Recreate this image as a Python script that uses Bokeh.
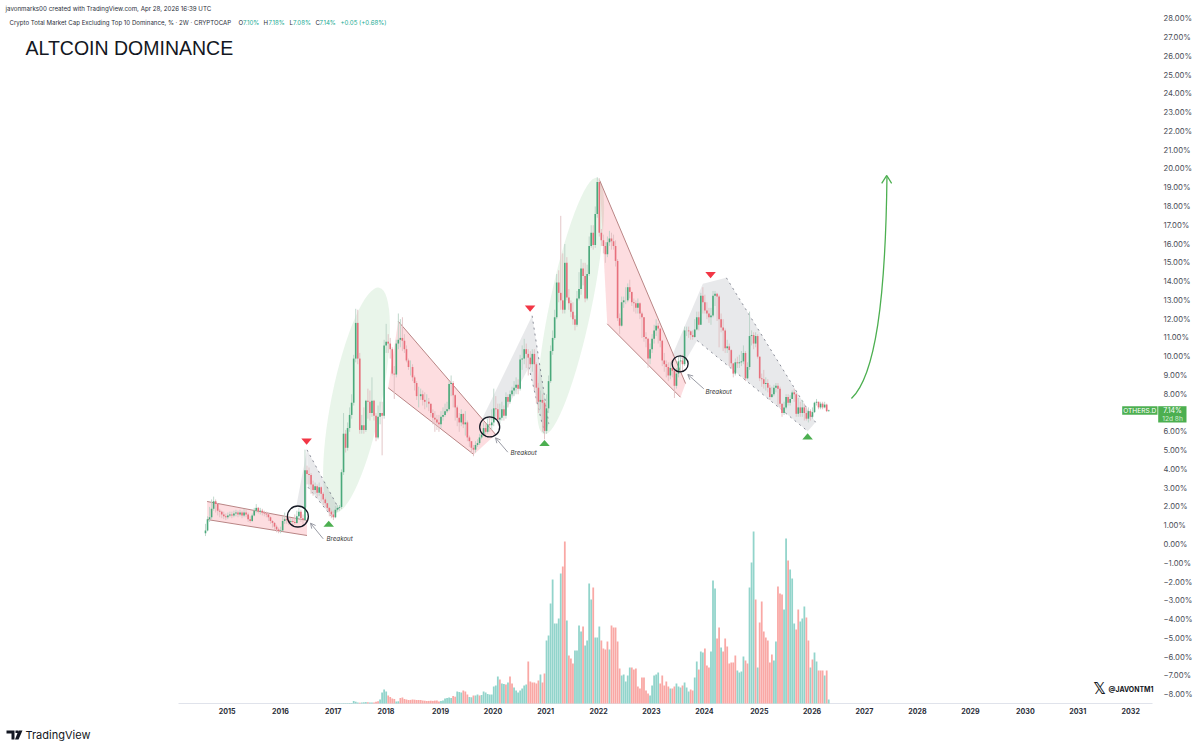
from bokeh.plotting import figure
from bokeh.models import (Range1d, Label, BoxAnnotation, PolyAnnotation, Arrow, OpenHead,
                          FixedTicker, ColumnDataSource)
from bokeh.embed import file_html
from bokeh.resources import INLINE
import math

# ---------------- data ----------------
first_open = 0.6
close = [
 0.75,1.35,1.45,1.9,2.3,2.15,1.8,1.75,1.6,1.5,
 1.45,1.55,1.6,1.55,1.65,1.7,1.6,1.7,1.55,1.7,
 1.6,1.35,1.25,1.55,1.8,1.95,1.75,1.8,1.7,1.65,
 1.6,1.45,1.25,1.15,0.95,0.8,0.72,0.75,1.25,1.35,
 1.3,1.2,1.25,1.2,1.15,1.5,1.75,1.4,1.3,3.95,
 3.75,3.7,3.2,2.9,3.1,2.75,3.05,2.7,2.4,2.2,
 1.95,1.75,1.6,1.45,1.85,1.95,2.0,3.85,5.9,5.15,
 6.2,6.9,7.55,9.9,11.8,9.9,6.1,6.35,6.1,7.65,
 7.6,7.0,7.65,6.85,5.7,6.8,7.0,6.85,10.6,10.8,
 10.7,10.4,9.1,9.05,10.7,10.9,11.0,10.85,10.4,9.8,
 9.45,9.45,8.9,8.6,7.9,7.9,8.0,7.7,7.6,7.6,
 7.5,7.0,6.75,6.65,6.5,6.4,6.8,6.9,7.1,7.2,
 8.55,8.6,7.95,7.3,6.75,6.5,6.95,6.4,6.5,5.7,
 5.5,5.15,5.05,5.3,5.4,5.7,5.85,6.2,6.0,6.4,
 6.35,6.5,7.25,7.2,6.65,6.75,7.2,6.85,7.85,7.6,
 8.0,8.2,8.35,8.5,8.3,9.85,9.9,10.4,10.15,9.95,
 9.6,10.15,9.6,8.35,7.6,7.7,7.55,6.05,7.25,8.7,
 10.3,11.0,12.1,13.95,13.4,13.0,12.5,15.0,13.15,12.85,
 12.4,12.0,11.7,13.1,13.6,14.7,14.3,13.1,14.4,15.9,
 16.6,15.95,17.6,19.3,16.6,16.2,15.9,15.45,16.1,16.3,
 16.15,15.9,15.1,12.05,11.65,12.9,13.0,13.0,13.7,13.45,
 12.9,12.85,12.6,12.85,12.3,12.1,11.05,10.95,9.9,10.4,
 10.95,11.4,11.65,11.5,10.85,9.8,9.6,9.45,9.0,9.4,
 9.25,8.45,9.1,9.75,9.8,9.6,11.4,11.4,11.35,11.15,
 11.05,11.45,12.1,11.7,13.25,12.9,12.46,12.3,12.1,12.2,
 13.25,13.35,13.2,12.0,11.55,11.4,10.45,10.55,10.35,9.65,
 9.1,9.7,9.65,9.7,9.75,10.2,8.85,9.45,11.1,11.15,
 10.7,11.1,10.0,8.85,8.8,8.55,8.6,8.35,7.85,8.0,
 8.35,8.45,8.3,7.5,7.0,7.3,7.85,7.55,7.75,8.1,
 8.0,6.96,7.3,7.0,7.3,7.0,6.7,7.1,6.8,7.05,
 7.55,7.6,7.3,7.5,7.3,7.45,7.1,7.14]
high = [
 1.1,1.5,2.0,2.4,2.55,2.4,2.2,1.9,1.8,1.75,
 1.65,1.7,1.75,1.75,1.8,1.85,1.8,1.85,1.8,1.9,
 1.85,1.7,1.5,1.65,1.95,2.15,2.0,1.95,1.9,1.8,
 1.75,1.65,1.5,1.3,1.2,1.05,0.9,0.95,1.5,1.7,
 1.5,1.4,1.4,1.4,1.6,1.8,1.95,1.85,1.6,5.05,
 4.2,4.1,3.8,3.4,3.3,3.2,3.3,3.1,2.8,2.5,
 2.2,2.0,1.85,1.8,2.05,2.1,2.1,4.0,7.0,6.1,
 6.5,7.3,8.0,10.1,12.55,12.5,10.2,6.9,7.3,7.7,
 8.3,8.2,8.9,7.7,7.0,7.4,7.6,7.6,10.9,11.75,
 11.2,11.0,10.5,9.5,10.9,12.3,12.0,12.1,11.2,10.6,
 9.9,9.8,9.6,9.0,8.7,8.4,8.3,8.2,8.1,8.0,
 7.8,7.5,7.2,7.1,6.9,6.9,7.1,7.3,7.5,7.6,
 8.7,9.0,8.7,8.0,7.4,7.0,7.2,7.0,7.1,6.6,
 5.8,5.5,5.3,5.5,5.6,5.9,6.0,6.5,6.4,6.7,
 6.8,7.2,8.3,7.9,7.5,7.5,7.6,7.4,8.1,8.0,
 8.2,8.4,8.7,8.9,8.8,10.1,10.6,10.95,10.7,10.4,
 10.3,10.4,10.4,9.7,8.6,8.2,8.0,7.7,8.0,9.0,
 10.6,11.4,12.5,14.4,14.6,17.5,15.5,16.0,15.3,13.6,
 13.0,12.9,12.2,13.5,14.5,15.2,15.0,15.0,14.9,16.4,
 17.0,17.0,18.0,19.55,19.5,16.8,16.5,16.1,16.4,16.7,
 16.6,16.5,16.2,15.2,12.3,13.2,13.2,13.7,13.9,14.1,
 13.4,13.1,13.0,13.1,12.9,12.4,12.1,11.3,11.0,10.7,
 11.2,11.7,12.0,11.8,11.3,10.9,10.2,9.8,9.7,9.7,
 9.6,9.4,9.4,10.0,10.1,10.1,11.6,11.6,11.6,11.4,
 11.4,12.0,12.4,12.4,13.4,13.7,13.3,12.9,12.6,12.6,
 13.5,13.5,13.4,13.3,12.3,12.0,11.5,10.9,10.7,10.4,
 9.6,9.9,10.0,10.1,10.3,10.6,10.3,9.7,12.4,11.4,
 11.3,11.3,11.2,10.0,9.1,9.3,8.9,8.8,8.5,8.4,
 8.5,8.6,8.6,8.4,7.5,7.6,8.0,8.0,7.95,8.2,
 8.3,8.1,7.8,7.6,7.7,7.5,7.3,7.3,7.2,7.3,
 7.6,7.75,7.6,7.6,7.6,7.6,7.5,7.18]
low = [
 0.45,0.7,1.2,1.35,1.8,1.7,1.55,1.45,1.4,1.35,
 1.3,1.35,1.45,1.4,1.45,1.5,1.45,1.5,1.4,1.45,
 1.45,1.2,1.15,1.2,1.5,1.7,1.65,1.6,1.55,1.5,
 1.45,1.25,1.1,0.9,0.75,0.65,0.6,0.6,0.7,1.1,
 1.1,1.05,1.1,1.05,1.05,1.1,1.4,1.2,1.1,1.25,
 3.2,3.2,2.7,2.6,2.7,2.5,2.6,2.3,2.1,2.0,
 1.8,1.5,1.4,1.3,1.4,1.75,1.8,1.9,3.7,4.9,
 5.0,6.0,6.7,7.4,9.7,9.6,5.9,5.9,5.9,6.0,
 6.7,6.6,6.8,6.6,5.5,5.6,6.4,4.75,6.7,10.2,
 10.2,9.9,9.0,7.75,8.9,10.4,10.5,10.3,10.2,9.7,
 9.3,9.0,8.7,8.2,7.7,7.3,7.7,7.4,7.2,7.3,
 7.1,6.8,6.4,6.0,6.1,6.0,6.2,6.6,6.8,7.0,
 7.1,7.9,7.3,6.6,6.3,6.0,6.3,6.2,5.8,5.5,
 5.2,4.85,4.7,4.9,5.2,5.3,5.6,5.8,5.7,5.9,
 6.0,6.1,6.3,6.8,6.4,6.4,6.6,6.6,6.7,7.3,
 7.5,7.9,7.9,8.0,8.0,8.2,9.3,9.6,9.4,9.0,
 9.4,9.2,8.2,7.5,7.0,7.2,6.0,5.6,5.9,7.0,
 8.6,10.1,10.9,12.0,12.9,12.5,12.3,12.3,13.0,12.5,
 12.1,11.7,11.4,11.6,13.0,13.3,13.8,12.9,13.0,14.3,
 15.8,15.7,15.8,17.4,16.4,15.9,15.5,15.0,15.3,15.9,
 15.7,15.7,14.8,11.9,11.2,11.6,12.6,12.8,12.9,13.1,
 12.7,12.4,12.3,12.3,12.0,11.0,10.8,10.5,9.4,9.6,
 10.2,10.7,11.1,10.7,10.5,9.5,9.2,8.9,8.7,8.8,
 8.9,7.8,8.3,8.9,9.3,9.2,9.5,11.1,11.0,10.9,
 10.9,11.0,11.4,11.4,11.7,12.3,12.3,12.0,11.8,11.7,
 12.1,12.7,11.9,10.5,11.3,10.3,10.2,10.2,9.5,9.4,
 8.9,9.0,9.4,9.4,9.5,9.6,8.7,8.8,9.3,10.6,
 10.4,10.5,9.9,8.7,8.4,8.3,8.2,8.1,7.7,7.8,
 7.9,8.1,7.4,7.3,6.8,6.9,7.2,7.4,7.4,7.8,
 7.6,6.8,6.8,6.8,6.8,6.6,6.6,6.5,6.6,6.7,
 7.0,7.4,7.2,7.2,7.2,7.25,7.05,7.08]

volume_first_bar = 60
volume = [
 0,0,0,0.2,0.2,0.3,0.3,0.3,0.4,0.4,
 0.4,0.5,0.5,2.5,1.8,1.0,0.8,1.0,1.2,1.4,
 1.3,1.0,0.9,0.9,1.8,2.2,4.0,11,14,12,
 8,6.5,5,4.5,2,2.2,5.5,6,4.5,4,
 3.5,3.6,4,3.8,3.5,3.5,3.5,3,2.8,2.5,
 2.6,2.8,2.6,2.9,3,2,2.5,3,5,5.5,
 6,5.5,7.5,6.8,12,11.5,11,13,12,9,
 6.5,6.2,8,8,9,8,8.5,12,11,9.5,
 9,9,17,18,27,24,20,19.5,19,21,
 27,20,16,13,11,13,15,18,19,42,
 22,21,21,20,23,29,21,30,63,68,
 100,124,80,80,85,130,137,162,83,48,
 45,40,53,53,78,72,77,58,63,120,
 104,116,66,66,77,63,55,54,62,54,
 78,76,76,62,35,28,29,22,28,36,
 36,34,35,17,15,26,26,13,10,8,
 18,28,29,31,20,28,18,22,17,15,
 15,17,20,17,16,18,21,16,12,14,
 13,26,42,34,52,51,55,38,36,52,
 123,115,65,76,56,52,65,57,40,41,
 41,48,33,31,32,47,43,40,116,141,
 172,104,36,81,102,72,66,63,41,49,
 43,62,117,110,109,94,165,143,134,125,
 80,74,94,82,85,97,86,63,36,44,
 51,42,33,33,33,28,33,4]
volume_side = "".join([
 "tttttttttt","ttttttrttt","rttrrrtttt","rrrrttrrrr","rrrrrrrrrr","rrrrrrtttt",
 "ttrrtttrrr","ttrttrtttt","tttttrttrt","rrtttttttr","rrrrrtrrtt","ttttttrrtr",
 "rrttttrttt","trtttrrrrt","rrrrrttttt","rrrrrrrrrt","ttttrrrrrt","rrtttrtttr",
 "rttrttrrrt","ttrrtrrrrr","rrttttrrtt","trtrrrrrrr","ttrrrttrtt","trrtttrrtr",
 "ttrrrtrt"])

year_labels = ["2015","2016","2017","2018","2019","2020","2021","2022","2023","2024",
               "2025","2026","2027","2028","2029","2030","2031","2032"]
year_bars = [10.7,36.9,62.9,88.9,115.8,141.6,167.6,193.7,219.7,245.8,
             272.8,298.8,324.6,350.7,376.8,403.9,429.7,455.8]
pct_ticks = list(range(-8, 29))

# annotations, in (bar, percent)
channel_a = ([0.8,50,50,0.8],[2.29,1.28,0.48,1.33])
channel_b = ([94.9,142.9,132.2,90],[11.89,5.86,4.79,8.34])
channel_c = ([194.2,236.5,234,197.9],[19.38,8.57,7.84,11.75])
gray_a = ([44.8,50,50],[2.08,5.04,1.97])
gray_a2 = ([50,65.7,62.4,50.5],[5.04,1.9,1.45,3.05])
gray_b = ([136.3,160.9,169.1,167,159.3,145.3],[6.69,12.18,6.43,5.89,9.44,6.6])
gray_c = ([229.9,245,256.6,300.5,296.7,242.2,236.5],[10.06,13.88,14.2,6.51,6.03,10.86,9.8])
dotted_x = [[50,65.7],[50.5,62.4],[160.9,169.1],[159.3,167],[256.6,300.5],[242.2,296.7]]
dotted_y = [[5.04,1.9],[3.05,1.45],[12.18,6.43],[9.44,5.89],[14.2,6.51],[10.86,6.03]]
ellipse_x = [74.4,179.8]
ellipse_y = [7.67,12.7]
ellipse_long = [230,262]
ellipse_short = [50,42]
ellipse_deg = [78.6,78.3]
circle_x = [45.5,140,233.8]
circle_y = [1.49,6.26,9.62]
circle_d = [21,20,16]
sell_x = [49.8,159.9,248.8]
sell_y = [5.48,12.57,14.35]
buy_x = [60.7,167,296.6]
buy_y = [1.1,5.4,5.75]
arrows = [(310,522.7,322.7,538.3),(495,437.3,507.3,451.7),(687.3,374,703.3,388.3)]
breakouts = [(326,537.5),(510,451.5),(705,390.5)]

TOP_PCT = 544/18.78
BOT_PCT = (544-750)/18.78
AXIS_PCT = (544-703)/18.78
LEFT_BAR = (0-205)/2.03
AXIS_BAR = (1152-205)/2.03
RIGHT_BAR = (1200-205)/2.03

p = figure(width=1200, height=750, output_backend="svg", toolbar_location=None,
           x_range=Range1d(LEFT_BAR, RIGHT_BAR), y_range=Range1d(BOT_PCT, TOP_PCT),
           y_axis_location="right", min_border_left=0, min_border_top=0,
           min_border_right=0, min_border_bottom=0, outline_line_color=None,
           background_fill_color="white", border_fill_color="white")
p.grid.visible = False
p.extra_y_ranges = {"vol": Range1d(-47, 703)}

ya = p.yaxis[0]
ya.fixed_location = AXIS_BAR
ya.ticker = FixedTicker(ticks=pct_ticks)
ya.major_label_overrides = {t: ("\u2212" if t < 0 else "") + f"{abs(t)}.00%" for t in pct_ticks}
ya.major_label_text_font = "Inter"
ya.major_label_text_font_size = "7.7px"
ya.major_label_text_color = "#4a4d57"
ya.major_tick_in = 0
ya.major_tick_out = 0
ya.major_tick_line_color = None
ya.minor_tick_line_color = None
ya.axis_line_color = None
ya.major_label_standoff = 11

xa = p.xaxis[0]
xa.fixed_location = AXIS_PCT
xa.ticker = FixedTicker(ticks=year_bars)
xa.major_label_overrides = dict(zip(year_bars, year_labels))
xa.major_label_text_font = "Inter"
xa.major_label_text_font_style = "bold"
xa.major_label_text_font_size = "7.1px"
xa.major_label_text_color = "#2a2e39"
xa.major_tick_in = 0
xa.major_tick_out = 0
xa.major_tick_line_color = None
xa.minor_tick_line_color = None
xa.axis_line_color = None
xa.major_label_standoff = 4

# baseline of the time axis
p.segment(x0=[-13.3], y0=[AXIS_PCT], x1=[AXIS_BAR], y1=[AXIS_PCT], line_color="#e0e3eb", line_width=1)

# ellipses
p.ellipse(x=ellipse_x, y=ellipse_y, width=ellipse_long, height=ellipse_short,
          angle=[math.radians(a) for a in ellipse_deg], width_units="screen", height_units="screen",
          fill_color="#4caf50", fill_alpha=0.12, line_color=None)

# shaded shapes
for xs, ys in (gray_a, gray_a2, gray_b, gray_c):
    p.patch(xs, ys, fill_color="#787b86", fill_alpha=0.17, line_color=None)
for xs, ys in (channel_a, channel_b, channel_c):
    p.patch(xs, ys, fill_color="#f23645", fill_alpha=0.17, line_color=None)
    p.segment(x0=[xs[0], xs[3]], y0=[ys[0], ys[3]], x1=[xs[1], xs[2]], y1=[ys[1], ys[2]],
              line_color="#b98585", line_width=1)
p.multi_line(dotted_x, dotted_y, line_color="#6f7280", line_width=0.8, line_dash="dotted")

# volume
vx = [volume_first_bar + k for k in range(len(volume))]
vc = ["#92d4cb" if s == "t" else "#f9a8a5" for s in volume_side]
p.vbar(x=vx, bottom=[0]*len(vx), top=volume, width=0.88, fill_color=vc, line_color=None,
       y_range_name="vol")

# candles
opens = [first_open] + close[:-1]
bars = list(range(len(close)))
up = [c >= o for c, o in zip(close, opens)]
src = ColumnDataSource(dict(
    x=bars, o=opens, c=close, h=high, l=low,
    wick=["#b9d2c6" if u else "#e0bfc2" for u in up],
    body=["#4aa97b" if u else "#e8707c" for u in up]))
p.segment(x0="x", y0="l", x1="x", y1="h", source=src, line_color="wick", line_width=0.9)
p.vbar(x="x", bottom="o", top="c", width=0.8, source=src, fill_color="body", line_color=None)

# markers
p.scatter(circle_x, circle_y, marker="circle", size=circle_d, fill_color=None,
          line_color="#131722", line_width=1.3)
p.patches([[x-2.6, x+2.6, x] for x in sell_x], [[y+0.16, y+0.16, y-0.17] for y in sell_y],
          fill_color="#f23645", line_color=None)
p.patches([[x-2.6, x+2.6, x] for x in buy_x], [[y-0.16, y-0.16, y+0.17] for y in buy_y],
          fill_color="#4caf50", line_color=None)

# small arrows
def bx(x): return (x-205)/2.03
def pv(y): return (544-y)/18.78
for xa0, ya0, xa1, ya1 in arrows:
    p.add_layout(Arrow(x_start=bx(xa1), y_start=pv(ya1), x_end=bx(xa0), y_end=pv(ya0),
                       line_color="#80838e", line_width=0.8,
                       end=OpenHead(size=5, line_color="#80838e", line_width=0.8)))

# projected move
p.bezier(x0=[318.2], y0=[7.77], x1=[335.7], y1=[19.6], cx0=[330], cy0=[9.0], cx1=[335], cy1=[13],
         line_color="#4caf50", line_width=1.3)
p.line([333.1,335.6,338.0],[19.23,19.65,19.23], line_color="#4caf50", line_width=1.3)

def text_at(xr, yr, txt, font="Inter", size=7.5, color="#131722", style="normal", align="left"):
    p.add_layout(Label(x=xr, y=yr, x_units="canvas", y_units="canvas", text=txt, text_font=font,
                       text_font_size=f"{size}px", text_color=color, text_font_style=style,
                       text_align=align, text_baseline="middle"))

def box_at(x0, x1, y0, y1, color):
    p.add_layout(BoxAnnotation(left=x0, right=x1, top=y0, bottom=y1,
                               left_units="canvas", right_units="canvas", top_units="canvas",
                               bottom_units="canvas", fill_color=color, fill_alpha=1, line_color=None))

for xr, yr in breakouts:
    text_at(xr, yr, "Breakout", size=6.2, style="italic", color="#333333")

text_at(5, 8, "javonmarks00 created with TradingView.com, Apr 28, 2026 16:39 UTC", size=6.2, color="#2a2e39")
text_at(9, 22, "Crypto Total Market Cap Excluding Top 10 Dominance, % \u00b7 2W \u00b7 CRYPTOCAP", size=6.1, color="#2a2e39")
teal = "#22ab94"
for xr, lab, val, xv in ((238, "O", "7.10%", 242.5), (263, "H", "7.18%", 268), (289, "L", "7.08%", 292.5), (315, "C", "7.14%", 319)):
    text_at(xr, 22, lab, size=6.1, color="#2a2e39")
    text_at(xv, 22, val, size=6.1, color=teal)
text_at(340, 22, "+0.05 (+0.68%)", size=6.1, color=teal)
text_at(25, 47.5, "ALTCOIN DOMINANCE", font="Liberation Sans", size=19.5, color="#131722")

# price tag
box_at(1121.7, 1157, 405.7, 414.3, "#4caf50")
box_at(1157.7, 1186, 405.7, 422, "#4caf50")
text_at(1139.3, 410, "OTHERS.D", size=6.6, color="white", align="center")
text_at(1172, 410, "7.14%", size=7.0, color="white", align="center")
text_at(1172, 418, "12d 8h", size=6.6, color="#d5efd6", align="center")

# watermark
text_at(1093, 688, "\U0001D54F", font="DejaVu Sans", size=15, color="#131722", style="bold")
text_at(1108, 689, "@JAVONTM1", size=6.9, color="#131722", style="bold")

# footer
p.add_layout(PolyAnnotation(xs=[6,14,14,11,11,6], ys=[730,730,739,739,733,733],
                            xs_units="canvas", ys_units="canvas", fill_color="#131722", fill_alpha=1, line_color=None))
p.add_layout(PolyAnnotation(xs=[18,22,18,14.5], ys=[730,730,739,739],
                            xs_units="canvas", ys_units="canvas", fill_color="#131722", fill_alpha=1, line_color=None))
box_at(15, 17.5, 730, 732.5, "#131722")
text_at(25, 734, "TradingView", size=11, color="#131722")

open("out.html", "w").write(file_html(p, INLINE))
